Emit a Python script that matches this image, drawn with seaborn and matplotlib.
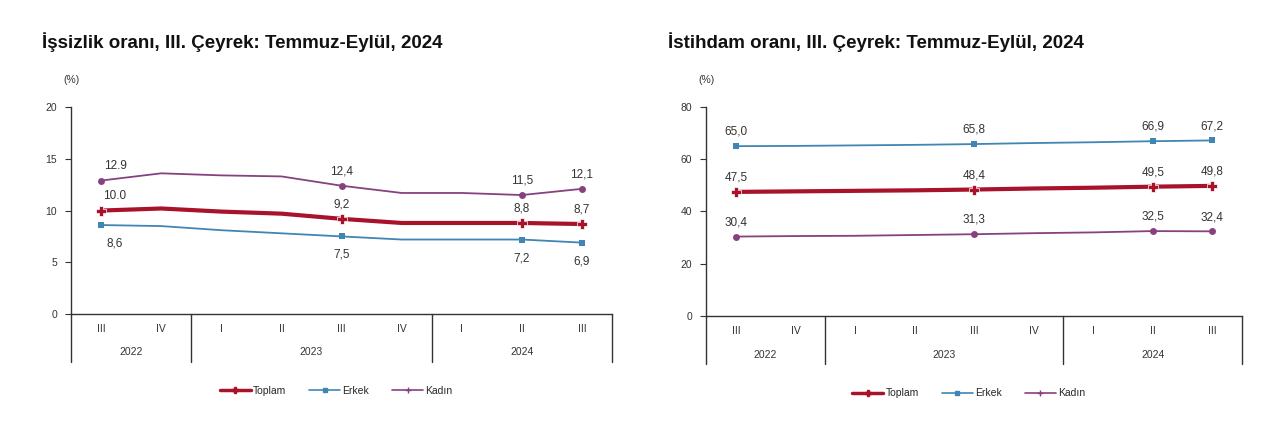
import matplotlib.pyplot as plt
import matplotlib.transforms as mtransforms
from matplotlib.lines import Line2D
import pandas as pd
import seaborn as sns

# quarters on the x axis
quarters = ['III', 'IV', 'I', 'II', 'III', 'IV', 'I', 'II', 'III']
years = ['2022', '2023', '2024']
year_centers = [0.5, 3.5, 7.0]
year_breaks = [1.5, 5.5]

# unemployment (left)
unemp_toplam = [10.0, 10.2, 9.9, 9.7, 9.2, 8.8, 8.8, 8.8, 8.7]
unemp_erkek = [8.6, 8.5, 8.1, 7.8, 7.5, 7.2, 7.2, 7.2, 6.9]
unemp_kadin = [12.9, 13.6, 13.4, 13.3, 12.4, 11.7, 11.7, 11.5, 12.1]

# employment (right)
emp_toplam = [47.5, 47.7, 47.9, 48.1, 48.4, 48.8, 49.1, 49.5, 49.8]
emp_erkek = [65.0, 65.1, 65.3, 65.5, 65.8, 66.2, 66.5, 66.9, 67.2]
emp_kadin = [30.4, 30.6, 30.7, 31.0, 31.3, 31.7, 32.0, 32.5, 32.4]

# only these quarters get a marker and a label
labeled = [0, 4, 7, 8]

colors = {'Toplam': '#A8122A', 'Erkek': '#3F86B5', 'Kadın': '#86427F'}

sns.set_style('white')
plt.rcParams['font.family'] = ['Liberation Sans', 'DejaVu Sans']

fig = plt.figure(figsize=(12.8, 4.24), dpi=100)
ax1 = fig.add_axes([0.0555, 0.2594, 0.4227, 0.488])
ax2 = fig.add_axes([0.5516, 0.2547, 0.4188, 0.493])


def draw(ax, toplam, erkek, kadin, ymax, step, below_erkek, fmt_override, first_dx):
    df = pd.DataFrame({'q': range(len(quarters)), 'Toplam': toplam,
                       'Erkek': erkek, 'Kadın': kadin})
    style = {'Toplam': dict(lw=3.0, marker='P', ms=7, mew=0.5),
             'Erkek': dict(lw=1.3, marker='s', ms=5, mew=0),
             'Kadın': dict(lw=1.3, marker='o', ms=5, mew=0)}
    for name in ['Kadın', 'Erkek', 'Toplam']:
        sns.lineplot(data=df, x='q', y=name, ax=ax, color=colors[name],
                     markevery=labeled, **style[name])
        for i in labeled:
            v = df[name][i]
            txt = fmt_override.get((name, i), f'{v:.1f}'.replace('.', ','))
            dx = first_dx if i == 0 else 0
            if name == 'Erkek' and below_erkek:
                ax.annotate(txt, (i, v), xytext=(dx, -9), textcoords='offset points',
                            ha='center', va='top', fontsize=8.5, color='#333333')
            else:
                ax.annotate(txt, (i, v), xytext=(dx, 6), textcoords='offset points',
                            ha='center', va='bottom', fontsize=8.5, color='#333333')

    ax.set_xlim(-0.5, len(quarters) - 0.5)
    ax.set_ylim(0, ymax)
    ax.set_yticks(range(0, ymax + 1, step))
    ax.set_xticks(range(len(quarters)))
    ax.set_xticklabels(quarters)
    ax.set_xlabel('')
    ax.set_ylabel('')
    ax.tick_params(axis='x', length=0, pad=7, labelsize=7.5, labelcolor='#333333')
    ax.tick_params(axis='y', length=4, width=0.8, direction='out', left=True,
                   pad=6, labelsize=7.5, labelcolor='#333333', color='#333333')
    for s in ['top', 'right']:
        ax.spines[s].set_visible(False)
    for s in ['left', 'bottom']:
        ax.spines[s].set_color('#333333')
        ax.spines[s].set_linewidth(1.0)

    tr = mtransforms.blended_transform_factory(ax.transData, ax.transAxes)
    for x in [-0.5] + year_breaks + [len(quarters) - 0.5]:
        ax.plot([x, x], [0, -0.23], transform=tr, color='#333333', lw=1.0,
                clip_on=False)
    for yc, yr in zip(year_centers, years):
        ax.text(yc, -0.185, yr, transform=tr, ha='center', va='center',
                fontsize=7.5, color='#333333')
    ax.text(0.0, 1.13, '(%)', transform=ax.transAxes, ha='center', va='center',
            fontsize=7.5, color='#333333')

    handles = [Line2D([], [], color=colors['Toplam'], lw=2.5, marker='P', ms=4),
               Line2D([], [], color=colors['Erkek'], lw=1.2, marker='s', ms=3),
               Line2D([], [], color=colors['Kadın'], lw=1.2, marker='+', ms=4)]
    ax.legend(handles, ['Toplam', 'Erkek', 'Kadın'], loc='center',
              bbox_to_anchor=(0.49, -0.37), ncol=3, frameon=False, fontsize=7.5,
              handlelength=3.0, handletextpad=0.2, columnspacing=2.2)


draw(ax1, unemp_toplam, unemp_erkek, unemp_kadin, 20, 5, True,
     {('Kadın', 0): '12.9', ('Toplam', 0): '10.0'}, 10)
draw(ax2, emp_toplam, emp_erkek, emp_kadin, 80, 20, False, {}, 0)

fig.text(42 / 1280, 1 - 42 / 424, 'İşsizlik oranı, III. Çeyrek: Temmuz-Eylül, 2024',
         fontsize=13.5, fontweight='bold', va='center', ha='left', color='#111111')
fig.text(668 / 1280, 1 - 42 / 424, 'İstihdam oranı, III. Çeyrek: Temmuz-Eylül, 2024',
         fontsize=13.5, fontweight='bold', va='center', ha='left', color='#111111')

fig.savefig('out.png', dpi=100)
